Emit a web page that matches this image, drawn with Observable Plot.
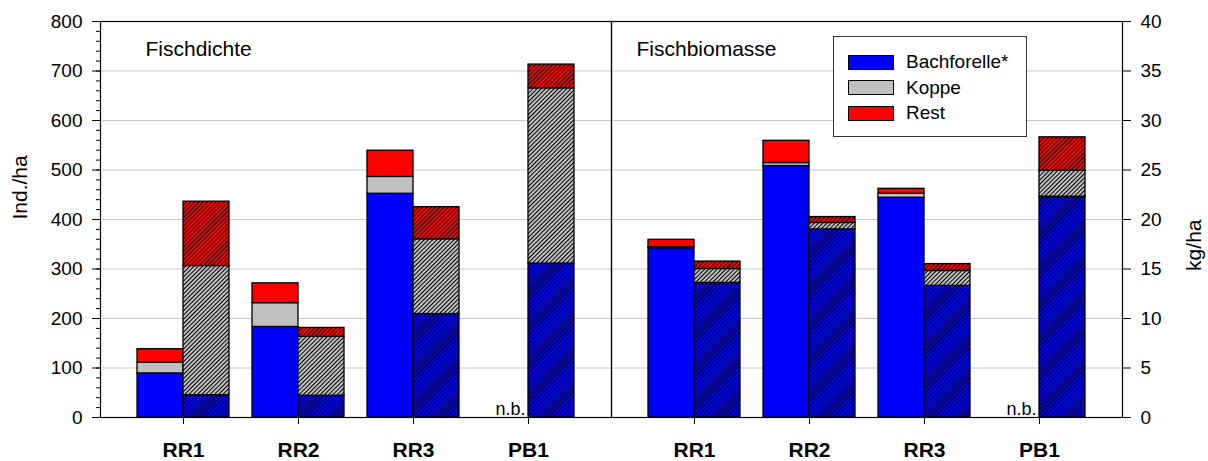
<!DOCTYPE html>
<html>
<head>
<meta charset="utf-8">
<script src="https://cdn.jsdelivr.net/npm/d3@7"></script>
<script src="https://cdn.jsdelivr.net/npm/@observablehq/plot@0.6"></script>
<style>
  body { margin: 0; background: #fff; }
  #chart { position: relative; width: 1208px; height: 461px; font-family: "Liberation Sans", Arial, sans-serif; overflow: hidden; }
  #chart > svg.panel { position: absolute; top: 0; }
  #legend { position: absolute; left: 833px; top: 36px; width: 194px; height: 101px; border: 1px solid #333; background: #fff; box-sizing: border-box; }
  #legend .row { position: absolute; left: 14px; height: 20px; display: flex; align-items: center; font-size: 19px; color: #000; }
  #legend .sw { width: 44px; height: 13px; border: 1px solid #000; margin-right: 12px; }
</style>
</head>
<body>
<div id="chart">
  <svg width="0" height="0" style="position:absolute">
    <defs>
      <pattern id="hatch-blue" patternUnits="userSpaceOnUse" width="3" height="3" patternTransform="rotate(45)">
        <rect width="3" height="3" fill="#0000ff"/><line x1="1.5" y1="0" x2="1.5" y2="3" stroke="#000" stroke-width="1"/>
      </pattern>
      <pattern id="hatch-gray" patternUnits="userSpaceOnUse" width="3" height="3" patternTransform="rotate(45)">
        <rect width="3" height="3" fill="#c0c0c0"/><line x1="1.5" y1="0" x2="1.5" y2="3" stroke="#000" stroke-width="1"/>
      </pattern>
      <pattern id="hatch-red" patternUnits="userSpaceOnUse" width="3" height="3" patternTransform="rotate(45)">
        <rect width="3" height="3" fill="#ff0000"/><line x1="1.5" y1="0" x2="1.5" y2="3" stroke="#000" stroke-width="1"/>
      </pattern>
    </defs>
  </svg>
  <div id="legend"></div>
</div>
<script>
// ---- Data ----
const categories = ["RR1", "RR2", "RR3", "PB1"];
const species = ["Bachforelle*", "Koppe", "Rest"];
const speciesColors = ["#0000ff", "#c0c0c0", "#ff0000"];
const speciesHatches = ["url(#hatch-blue)", "url(#hatch-gray)", "url(#hatch-red)"];

// Fischdichte (Ind./ha) – solid bars (left) and hatched bars (right)
const dichteBachforelleSolid = [89, 183, 452, null];
const dichteKoppeSolid       = [22, 48, 34, null];
const dichteRestSolid        = [27, 40, 53, null];
const dichteBachforelleHatch = [45, 44, 209, 311];
const dichteKoppeHatch       = [261, 119, 151, 354];
const dichteRestHatch        = [130, 18, 65, 48];

// Fischbiomasse (kg/ha)
const biomasseBachforelleSolid = [17.1, 25.4, 22.2, null];
const biomasseKoppeSolid       = [0.1, 0.3, 0.4, null];
const biomasseRestSolid        = [0.75, 2.25, 0.5, null];
const biomasseBachforelleHatch = [13.6, 19.0, 13.3, 22.3];
const biomasseKoppeHatch       = [1.4, 0.65, 1.5, 2.65];
const biomasseRestHatch        = [0.75, 0.6, 0.7, 3.35];

const leftTicks = [0, 100, 200, 300, 400, 500, 600, 700, 800];
const rightTicks = [0, 5, 10, 15, 20, 25, 30, 35, 40];
const naLabel = "n.b.";

// ---- Helpers ----
function rows(arrays, fills) {
  const out = [];
  categories.forEach((c, i) => {
    arrays.forEach((arr, k) => {
      if (arr[i] != null) out.push({cat: c, species: species[k], value: arr[i], fill: fills[k]});
    });
  });
  return out;
}
const missing = (arr) => categories.filter((c, i) => arr[i] == null);

const FONT = "'Liberation Sans', Arial, sans-serif";

function panel(cfg, half) {
  const marks = [
    Plot.gridY(cfg.yTicks.slice(1, -1), {stroke: "#c8c8c8", strokeOpacity: 1}),
    Plot.barY(cfg.solid, {x: "cat", y: "value", fill: "fill", stroke: "#000", strokeWidth: 1.3, insetRight: half}),
    Plot.barY(cfg.hatched, {x: "cat", y: "value", fill: "fill", stroke: "#000", strokeWidth: 1.3, insetLeft: half}),
    Plot.text(cfg.na, {x: d => d, y: () => 0, text: () => naLabel, textAnchor: "end", lineAnchor: "bottom", dx: -3, dy: -3, fontSize: 18, fill: "#000"}),
    Plot.frame({stroke: "#000", strokeWidth: 1.2}),
    Plot.text([cfg.title], {frameAnchor: "top-left", dx: cfg.titleDx, dy: 20, lineAnchor: "top", textAnchor: "start", fontSize: 21, fill: "#000"}),
    Plot.text([cfg.yLabel], {frameAnchor: cfg.anchor, dx: cfg.yLabelDx, rotate: -90, fontSize: 21, fill: "#000"}),
    Plot.axisY(cfg.yTicks, {anchor: cfg.anchor, tickSize: 8, tickPadding: 10, fontSize: 19, label: null, color: "#000"}),
    Plot.axisX({tickSize: 7, tickPadding: 18, fontSize: 21, fontWeight: "bold", label: null, color: "#000"})
  ];
  if (cfg.minorTicks) {
    marks.push(Plot.axisY(cfg.minorTicks, {anchor: cfg.anchor, tickSize: 4, tickFormat: () => "", label: null, color: "#000"}));
  }
  return Plot.plot({
    width: cfg.width,
    height: 461,
    marginLeft: cfg.marginLeft,
    marginRight: cfg.marginRight,
    marginTop: 21,
    marginBottom: 44,
    style: {fontFamily: FONT, background: "transparent", color: "#000", overflow: "visible"},
    x: {domain: categories, paddingInner: 0.2, paddingOuter: 0.308, axis: null, label: null},
    y: {domain: cfg.yDomain, axis: null, label: null},
    color: {type: "identity"},
    marks
  });
}

function build(cfg) {
  const probe = panel(cfg, 0);
  const bw = probe.scale("x").bandwidth;
  const svg = panel(cfg, bw / 2);
  svg.classList.add("panel");
  svg.style.left = cfg.left + "px";
  return svg;
}

const chart = document.getElementById("chart");

const left = build({
  left: 0, width: 611, marginLeft: 100, marginRight: 0,
  yDomain: [0, 800], yTicks: leftTicks, minorTicks: d3.range(0, 801, 20),
  anchor: "left", yLabel: "Ind./ha", yLabelDx: -80,
  title: "Fischdichte", titleDx: 45,
  solid: rows([dichteBachforelleSolid, dichteKoppeSolid, dichteRestSolid], speciesColors),
  hatched: rows([dichteBachforelleHatch, dichteKoppeHatch, dichteRestHatch], speciesHatches),
  na: missing(dichteBachforelleSolid)
});
const right = build({
  left: 611, width: 597, marginLeft: 0, marginRight: 86,
  yDomain: [0, 40], yTicks: rightTicks, minorTicks: null,
  anchor: "right", yLabel: "kg/ha", yLabelDx: 72,
  title: "Fischbiomasse", titleDx: 25,
  solid: rows([biomasseBachforelleSolid, biomasseKoppeSolid, biomasseRestSolid], speciesColors),
  hatched: rows([biomasseBachforelleHatch, biomasseKoppeHatch, biomasseRestHatch], speciesHatches),
  na: missing(biomasseBachforelleSolid)
});
const legend = document.getElementById("legend");
chart.insertBefore(left, legend);
chart.insertBefore(right, legend);

species.forEach((s, i) => {
  const row = document.createElement("div");
  row.className = "row";
  row.style.top = (15 + i * 25.5) + "px";
  const sw = document.createElement("span");
  sw.className = "sw";
  sw.style.background = speciesColors[i];
  const t = document.createElement("span");
  t.textContent = s;
  row.appendChild(sw);
  row.appendChild(t);
  legend.appendChild(row);
});
</script>
</body>
</html>
